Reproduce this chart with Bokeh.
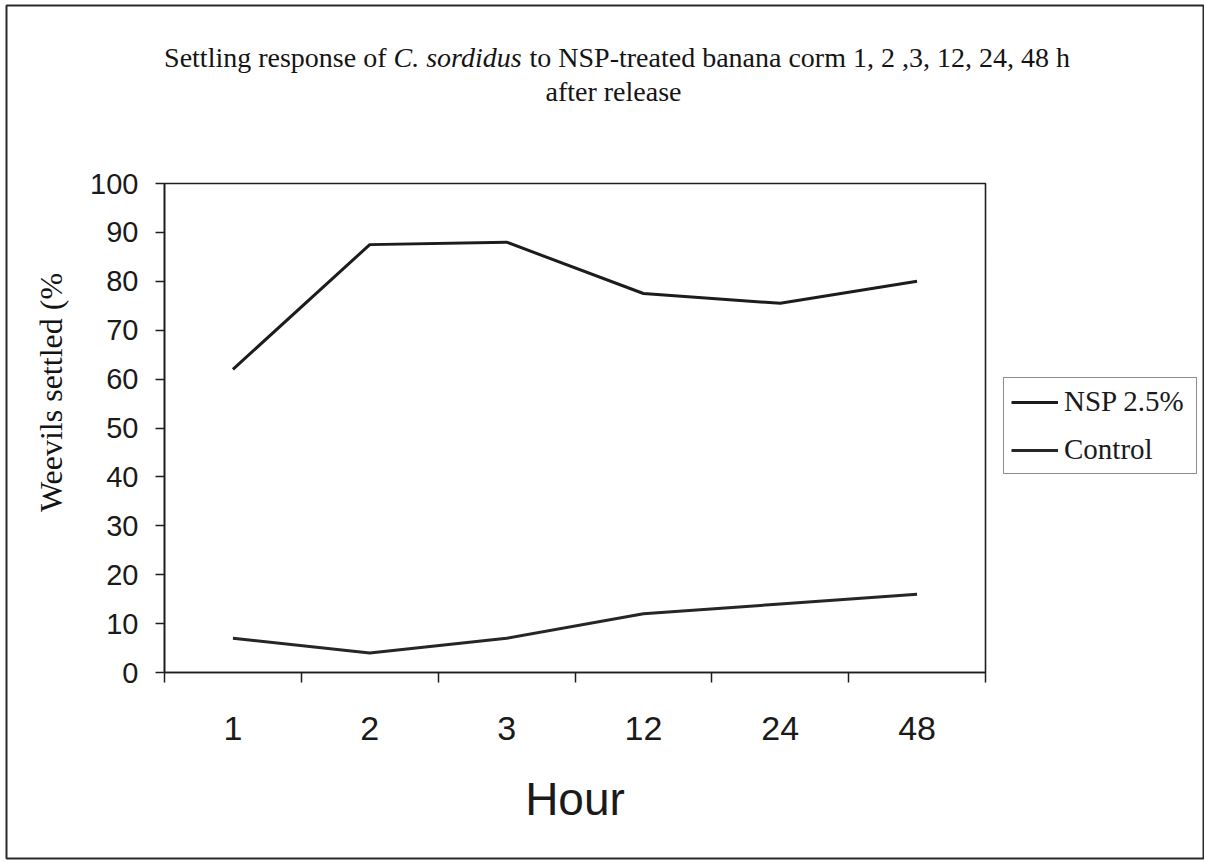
import math
from bokeh.plotting import figure
from bokeh.models import (Range1d, FixedTicker, Label, Legend, LegendItem)
from bokeh.embed import file_html
from bokeh.resources import INLINE

# ---- data ----
hours = ["1", "2", "3", "12", "24", "48"]
nsp = [62, 87.5, 88, 77.5, 75.5, 80]
control = [7, 4, 7, 12, 14, 16]
y_ticks = [0, 10, 20, 30, 40, 50, 60, 70, 80, 90, 100]

xs = list(range(1, len(hours) + 1))
bounds = [i + 0.5 for i in range(len(hours) + 1)]
x_lo, x_hi = bounds[0], bounds[-1]
y_lo, y_hi = y_ticks[0], y_ticks[-1]

SERIF = "Liberation Serif"
SANS = "Liberation Sans"

# ---- layout (page pixels) ----
W, H = 1204, 860
FL, FT, FR, FB = 6, 5, 1204, 858          # chart-area frame (outer border)
PL, PT, PR, PB = 164, 183, 985, 672       # plot-area box

sx = (PR - PL) / (x_hi - x_lo)
sy = (PB - PT) / (y_hi - y_lo)
xr = Range1d(x_lo - (PL - FL) / sx, x_hi + (FR - PR) / sx)
yr = Range1d(y_lo - (FB - PB) / sy, y_hi + (PT - FT) / sy)

p = figure(width=W, height=H, output_backend="svg", toolbar_location=None,
           x_range=xr, y_range=yr,
           min_border_left=FL, min_border_right=W - FR, min_border_top=FT,
           min_border_bottom=H - FB)
p.background_fill_color = "white"
p.border_fill_color = "white"
p.outline_line_color = "#2a2a2a"
p.outline_line_width = 2
p.xgrid.visible = False
p.ygrid.visible = False

# plot-area box
p.quad(left=[x_lo], right=[x_hi], bottom=[y_lo], top=[y_hi],
       fill_color=None, line_color="#1e1e1e", line_width=1.6)

# x axis (drawn inside the frame at y = 0)
xa = p.xaxis[0]
xa.fixed_location = y_lo
xa.bounds = (x_lo, x_hi)
xa.ticker = FixedTicker(ticks=xs, minor_ticks=bounds)
xa.major_label_overrides = {x: h for x, h in zip(xs, hours)}
xa.major_tick_line_color = None
xa.major_tick_out = 10
xa.major_tick_in = 0
xa.minor_tick_line_color = "#1e1e1e"
xa.minor_tick_line_width = 1.5
xa.minor_tick_out = 10
xa.minor_tick_in = 0
xa.axis_line_color = "#1e1e1e"
xa.axis_line_width = 1.6
xa.major_label_text_font = SANS
xa.major_label_text_font_size = "34px"
xa.major_label_text_color = "#1a1a1a"
xa.major_label_standoff = 34
xa.axis_label = "Hour"
xa.axis_label_text_font = SANS
xa.axis_label_text_font_size = "46px"
xa.axis_label_text_font_style = "normal"
xa.axis_label_text_color = "#1a1a1a"
xa.axis_label_standoff = 30

# y axis (drawn inside the frame at x = 0.5)
ya = p.yaxis[0]
ya.fixed_location = x_lo
ya.bounds = (y_lo, y_hi)
ya.ticker = FixedTicker(ticks=y_ticks)
ya.minor_tick_line_color = None
ya.major_tick_out = 9
ya.major_tick_in = 0
ya.major_tick_line_color = "#1e1e1e"
ya.major_tick_line_width = 1.5
ya.axis_line_color = "#1e1e1e"
ya.axis_line_width = 1.6
ya.major_label_text_font = SANS
ya.major_label_text_font_size = "29px"
ya.major_label_text_color = "#1a1a1a"
ya.major_label_standoff = 17

# lines
r1 = p.line(xs, nsp, line_color="#1c1c1c", line_width=3)
r2 = p.line(xs, control, line_color="#262626", line_width=3)

legend = Legend(items=[LegendItem(label="NSP 2.5%", renderers=[r1]),
                       LegendItem(label="Control", renderers=[r2])],
                location=(1003 - FL, FB - 474))
legend.border_line_color = "#1e1e1e"
legend.border_line_width = 1.5
legend.background_fill_alpha = 0
legend.label_text_font = SERIF
legend.label_text_font_size = "29px"
legend.label_text_color = "#1a1a1a"
legend.glyph_width = 47
legend.glyph_height = 30
legend.label_standoff = 6
legend.label_width = 125
legend.padding = 7
legend.spacing = 15
legend.margin = 0
p.add_layout(legend, "center")


# texts (screen coordinates relative to the chart-area frame)
def lab(text, px, py, align, style="normal", size="28px", angle=0.0):
    p.add_layout(Label(x=px - FL, y=FB - py, x_units="screen", y_units="screen",
                       text=text, text_font=SERIF, text_font_size=size,
                       text_font_style=style, text_color="#141414",
                       text_align=align, text_baseline="middle", angle=angle))


lab("Settling response of", 386, 57, "right")
lab("C. sordidus", 393, 57, "left", style="italic")
lab("to NSP-treated banana corm 1, 2 ,3, 12, 24, 48 h", 529, 57, "left")
lab("after release", 613, 91, "center")
lab("Weevils settled (%", 50, 392, "center", size="32px", angle=math.pi / 2)

open("out.html", "w").write(file_html(p, INLINE))
